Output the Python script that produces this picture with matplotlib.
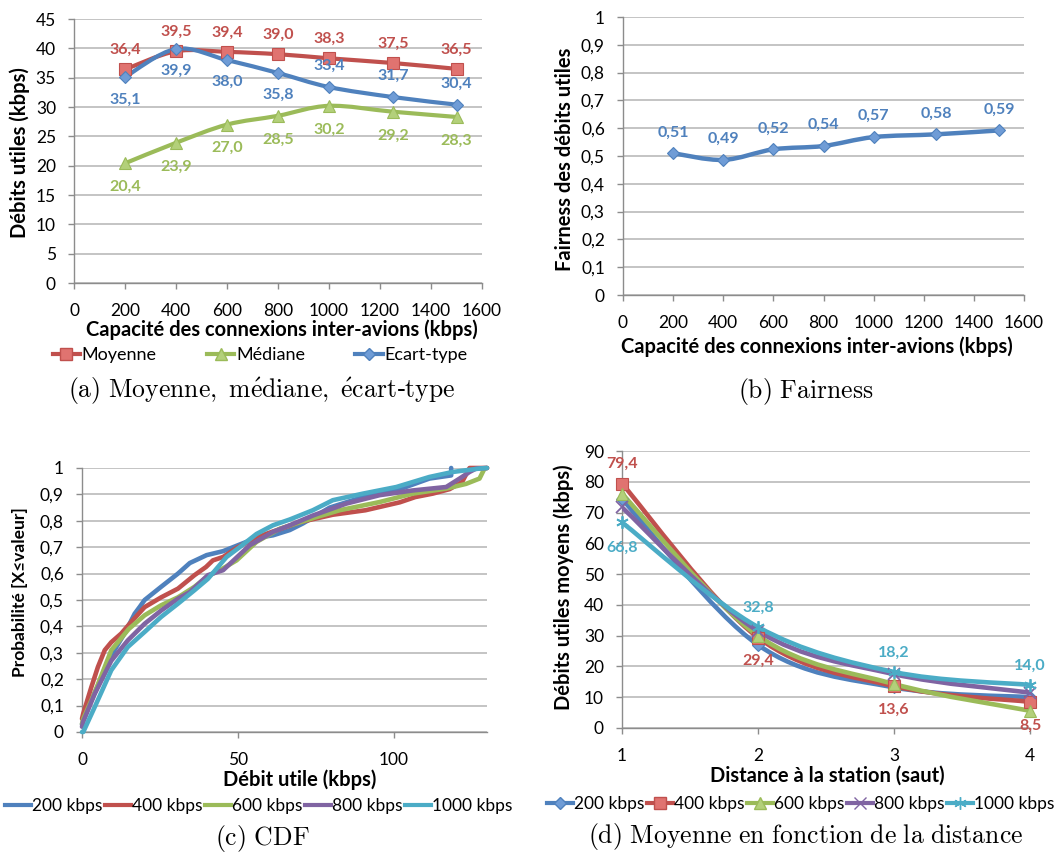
import numpy as np
import matplotlib
matplotlib.use('Agg')
import matplotlib.pyplot as plt
from matplotlib.path import Path
from matplotlib.patches import PathPatch
from matplotlib.lines import Line2D
from matplotlib.ticker import FuncFormatter

plt.rcParams['font.family'] = ['Lato', 'DejaVu Sans']
plt.rcParams['mathtext.fontset'] = 'cm'

W, H = 1062, 856

# (a) moyenne / mediane / ecart-type
capacites = [200, 400, 600, 800, 1000, 1250, 1500]
moyenne = [36.4, 39.5, 39.4, 39.0, 38.3, 37.5, 36.5]
mediane = [20.4, 23.9, 27.0, 28.5, 30.2, 29.2, 28.3]
ecart_type = [35.1, 39.9, 38.0, 35.8, 33.4, 31.7, 30.4]

# (b) fairness
fairness = [0.51, 0.486, 0.524, 0.536, 0.568, 0.578, 0.592]

# (c) CDF, points (debit kbps, probabilite)
cdf_200_x = [0, 3, 9.4, 14, 16.9, 18.6, 20.1, 25.4, 30.8, 34.6, 40, 45.3, 50.6, 56, 61.3, 66.7, 70.9, 79.5,
             90.2, 100.9, 111.5, 118.5, 118.5]
cdf_200_p = [0.03, 0.12, 0.29, 0.38, 0.448, 0.475, 0.5, 0.55, 0.6, 0.64, 0.67, 0.685, 0.71, 0.735, 0.745,
             0.765, 0.79, 0.85, 0.89, 0.915, 0.96, 0.972, 1.0]
cdf_400_x = [0, 0.4, 3.0, 5.1, 7.3, 9.4, 12.6, 15.8, 20.1, 25.4, 30.8, 36.1, 39.8, 42, 45.3, 50, 55, 59, 70,
             80.5, 91, 102, 107, 112.6, 118, 122, 124.4, 130]
cdf_400_p = [0.05, 0.07, 0.17, 0.246, 0.31, 0.34, 0.373, 0.417, 0.473, 0.51, 0.543, 0.594, 0.625, 0.65, 0.663,
             0.70, 0.73, 0.75, 0.795, 0.823, 0.84, 0.87, 0.89, 0.903, 0.92, 0.947, 1.0, 1.0]
cdf_600_x = [0, 0.4, 4.1, 9.4, 15, 20.1, 25.4, 30.8, 36.1, 40.4, 45.3, 49.6, 56, 63.5, 74.1, 82.7, 95.5, 106.2,
             116.9, 123.3, 127.6, 129.2, 130]
cdf_600_p = [0.03, 0.05, 0.15, 0.31, 0.39, 0.442, 0.48, 0.51, 0.55, 0.59, 0.62, 0.65, 0.72, 0.77, 0.81, 0.84,
             0.871, 0.903, 0.922, 0.94, 0.96, 0.998, 1.0]
cdf_800_x = [0, 0.4, 4.1, 9.4, 14.7, 20.1, 25.4, 30.8, 34.6, 40.4, 45.3, 53.8, 61.3, 66.7, 74.1, 84.8, 95.5,
             106.2, 116.9, 121.2, 124.4, 126.5, 130]
cdf_800_p = [0.02, 0.04, 0.145, 0.27, 0.347, 0.41, 0.46, 0.505, 0.53, 0.594, 0.613, 0.707, 0.758, 0.783, 0.82,
             0.865, 0.897, 0.915, 0.928, 0.96, 0.985, 0.998, 1.0]
cdf_1000_x = [0, 0.4, 4.1, 9.4, 14.7, 20.1, 25.4, 30.8, 36.1, 40.4, 46.4, 50.6, 56, 61.3, 66.7, 74.1, 80.5,
              90.2, 100.9, 111.5, 119, 127.6, 130]
cdf_1000_p = [0.0, 0.0, 0.095, 0.234, 0.322, 0.379, 0.436, 0.486, 0.537, 0.58, 0.663, 0.70, 0.75, 0.783, 0.805,
              0.84, 0.878, 0.903, 0.928, 0.966, 0.985, 0.998, 1.0]

# (d) moyenne en fonction de la distance
distances = [1, 2, 3, 4]
dist_200 = [74.4, 27.0, 13.2, 10.0]
dist_400 = [79.4, 29.4, 13.6, 8.5]
dist_600 = [76.1, 30.0, 14.3, 5.6]
dist_800 = [71.7, 31.5, 17.5, 11.5]
dist_1000 = [66.8, 32.8, 18.2, 14.0]

RED, GREEN, BLUE, PURPLE, CYAN = '#C0504D', '#9BBB59', '#4F81BD', '#8064A2', '#4BACC6'
RED_F, GREEN_F, BLUE_F = '#E07370', '#B3D07A', '#6F9CD6'
GRID, SPINE = '#B4B4B4', '#8C8C8C'
LAB = 14.5   # axis titles
TICK = 12.5
CAP = 18.5   # captions


def fx(px):
    return px / W


def fy(py):
    return 1 - py / H


def comma(v, _=None):
    return f'{v:g}'.replace('.', ',')


def smooth(ax, xs, ys, color, lw, z=3):
    # Excel-like smoothed line: Catmull-Rom drawn as cubic Bezier segments
    pts = np.column_stack([xs, ys]).astype(float)
    n = len(pts)
    verts, codes = [pts[0]], [Path.MOVETO]
    for i in range(n - 1):
        p0, p1 = pts[max(i - 1, 0)], pts[i]
        p2, p3 = pts[i + 1], pts[min(i + 2, n - 1)]
        verts += [p1 + (p2 - p0) / 6, p2 - (p3 - p1) / 6, p2]
        codes += [Path.CURVE4] * 3
    ax.add_patch(PathPatch(Path(verts, codes), fill=False, edgecolor=color, lw=lw,
                           capstyle='round', joinstyle='round', zorder=z))


def style(ax, xlim, xticks, ylim, yticks):
    ax.set_xlim(xlim)
    ax.set_ylim(ylim)
    ax.set_xticks(xticks)
    ax.set_yticks(yticks)
    ax.yaxis.set_major_formatter(FuncFormatter(comma))
    ax.yaxis.grid(True, color=GRID, lw=1.1)
    ax.set_axisbelow(True)
    for s in ['top', 'right']:
        ax.spines[s].set_visible(False)
    for s in ['left', 'bottom']:
        ax.spines[s].set_color(SPINE)
        ax.spines[s].set_linewidth(1.0)
    ax.tick_params(colors=SPINE, labelcolor='black', direction='out', length=4.5, width=1.0,
                   labelsize=TICK)
    ax.tick_params(axis='y', pad=8.5)
    ax.tick_params(axis='x', pad=10)


def label(ax, x, y, txt, color, dy):
    ax.annotate(txt, (x, y), xytext=(0, dy), textcoords='offset points', ha='center', va='center',
                color=color, fontsize=11.5, fontweight='bold', zorder=6)


fig = plt.figure(figsize=(W / 100, H / 100), dpi=100)

# ---------------- (a)
ax = fig.add_axes([fx(74), fy(283), fx(408), 264 / H])
style(ax, (0, 1600), range(0, 1601, 200), (0, 45), range(0, 46, 5))
series_a = [(moyenne, RED, RED_F, 's'), (mediane, GREEN, GREEN_F, '^'), (ecart_type, BLUE, BLUE_F, 'D')]
for vals, c, f, m in series_a:
    smooth(ax, capacites, vals, c, 3.0)
    ax.plot(capacites, vals, ls='none', marker=m, ms=8 if m != 'D' else 6.5, mfc=f, mec=c, mew=0.8,
            zorder=5, clip_on=False)
for i, x in enumerate(capacites):
    label(ax, x, moyenne[i], f'{moyenne[i]:.1f}'.replace('.', ','), RED, 14)
    label(ax, x, mediane[i], f'{mediane[i]:.1f}'.replace('.', ','), GREEN, -17)
    label(ax, x, ecart_type[i], f'{ecart_type[i]:.1f}'.replace('.', ','), BLUE, -16 if i < 4 else 15)
fig.text(fx(282), fy(330), 'Capacité des connexions inter-avions (kbps)', ha='center', va='center',
         fontsize=LAB, fontweight='bold')
fig.text(fx(20), fy(153), 'Débits utiles (kbps)', ha='center', va='center', rotation=90,
         fontsize=LAB, fontweight='bold')
handles = [Line2D([], [], color=c, lw=3, marker=m, ms=8 if m != 'D' else 6.5, mfc=f, mec=c)
           for _, c, f, m in series_a]
fig.legend(handles, ['Moyenne', 'Médiane', 'Ecart-type'], loc='center', bbox_to_anchor=(fx(260), fy(355)),
           ncol=3, frameon=False, fontsize=13, handlelength=1.5, handletextpad=0.1, columnspacing=2.8,
           borderpad=0)
fig.text(fx(262), fy(398), r"$\mathrm{(a)\ Moyenne,\ m\'{e}diane,\ \'{e}cart}$-$\mathrm{type}$",
         ha='center', va='baseline', fontsize=CAP, family='DejaVu Serif')

# ---------------- (b)
ax = fig.add_axes([fx(623), fy(295), fx(401), 278 / H])
style(ax, (0, 1600), range(0, 1601, 200), (0, 1), np.arange(0, 1.01, 0.1))
smooth(ax, capacites, fairness, BLUE, 3.2)
ax.plot(capacites, fairness, ls='none', marker='D', ms=6.5, mfc=BLUE_F, mec=BLUE, mew=0.8, zorder=5)
for x, v in zip(capacites, fairness):
    label(ax, x, v, f'{v:.2f}'.replace('.', ','), BLUE, 15)
fig.text(fx(817), fy(347), 'Capacité des connexions inter-avions (kbps)', ha='center', va='center',
         fontsize=LAB, fontweight='bold')
fig.text(fx(565), fy(159), 'Fairness des débits utiles', ha='center', va='center', rotation=90,
         fontsize=LAB, fontweight='bold')
fig.text(fx(806), fy(398), r'$\mathrm{(b)\ Fairness}$', ha='center', va='baseline', fontsize=CAP)

# ---------------- (c)
ax = fig.add_axes([fx(82), fy(732), fx(405), 264 / H])
style(ax, (0, 130), [0, 50, 100], (0, 1), np.arange(0, 1.01, 0.1))
cdfs = [(cdf_200_x, cdf_200_p, BLUE), (cdf_400_x, cdf_400_p, RED), (cdf_600_x, cdf_600_p, GREEN),
        (cdf_800_x, cdf_800_p, PURPLE), (cdf_1000_x, cdf_1000_p, CYAN)]
for i, (xs, ps, c) in enumerate(cdfs):
    ax.plot(xs, ps, color=c, lw=3.3, solid_joinstyle='round', solid_capstyle='round',
            zorder=3 + i * 0.1, clip_on=False)
fig.text(fx(300), fy(780), 'Débit utile (kbps)', ha='center', va='center', fontsize=LAB, fontweight='bold')
fig.text(fx(20), fy(592), 'Probabilité [X≤valeur]', ha='center', va='center', rotation=90,
         fontsize=12.5, fontweight='bold')
names = ['200 kbps', '400 kbps', '600 kbps', '800 kbps', '1000 kbps']
handles = [Line2D([], [], color=c, lw=3) for _, _, c in cdfs]
fig.legend(handles, names, loc='center', bbox_to_anchor=(fx(259), fy(806)), ncol=5, frameon=False,
           fontsize=12.5, handlelength=1.5, handletextpad=0.05, columnspacing=0.15, borderpad=0)
fig.text(fx(262), fy(845), r'$\mathrm{(c)\ CDF}$', ha='center', va='baseline', fontsize=CAP)

# ---------------- (d)
ax = fig.add_axes([fx(622), fy(728), fx(408), 277 / H])
style(ax, (1, 4), distances, (0, 90), range(0, 91, 10))
series_d = [(dist_200, BLUE, BLUE_F, 'D', 6.5), (dist_400, RED, RED_F, 's', 8),
            (dist_600, GREEN, GREEN_F, '^', 8), (dist_800, PURPLE, 'none', 'x', 8),
            (dist_1000, CYAN, 'none', (6, 2, 0), 9)]
for i, (vals, c, f, m, ms) in enumerate(series_d):
    smooth(ax, distances, vals, c, 3.3, z=3 + i * 0.1)
    ax.plot(distances, vals, ls='none', marker=m, ms=ms, mfc=f, mec=c, mew=0.8 if f != 'none' else 1.3,
            zorder=5, clip_on=False)
for i, x in enumerate(distances):
    label(ax, x, dist_400[i], f'{dist_400[i]:.1f}'.replace('.', ','), RED, 14 if i == 0 else -17)
    label(ax, x, dist_1000[i], f'{dist_1000[i]:.1f}'.replace('.', ','), CYAN, -18 if i == 0 else 14)
fig.text(fx(827), fy(776), 'Distance à la station (saut)', ha='center', va='center', fontsize=LAB,
         fontweight='bold')
fig.text(fx(564), fy(587), 'Débits utiles moyens (kbps)', ha='center', va='center', rotation=90,
         fontsize=LAB, fontweight='bold')
handles = [Line2D([], [], color=c, lw=3, marker=m, ms=ms, mfc=f, mec=c) for _, c, f, m, ms in series_d]
fig.legend(handles, names, loc='center', bbox_to_anchor=(fx(801), fy(804)), ncol=5, frameon=False,
           fontsize=12.5, handlelength=1.5, handletextpad=0.05, columnspacing=0.15, borderpad=0)
fig.text(fx(806), fy(843), r'$\mathrm{(d)\ Moyenne\ en\ fonction\ de\ la\ distance}$', ha='center',
         va='baseline', fontsize=CAP)

fig.savefig('out.png', dpi=100)
